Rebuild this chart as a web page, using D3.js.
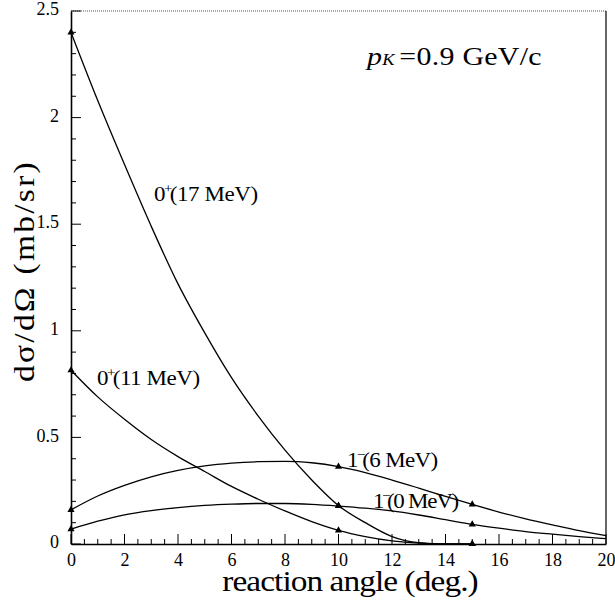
<!DOCTYPE html>
<html><head><meta charset="utf-8">
<script src="https://cdn.jsdelivr.net/npm/d3@7"></script>
<style>body{margin:0;background:#fff}svg{display:block}</style>
</head><body>
<svg id="c" width="615" height="603"></svg>
<script>
const angles = [0,1,2,3,4,5,6,7,8,9,10,11,12,13,14,15,16,17,18,19,20];
const s17 = [2.40,2.08,1.78,1.49,1.22,0.99,0.78,0.60,0.44,0.30,0.18,0.10,0.035,0.006,0.0,0.0];
const s11 = [0.815,0.69,0.585,0.49,0.41,0.34,0.27,0.21,0.155,0.105,0.064,0.035,0.015,0.004,0.0,0.0];
const s6  = [0.16,0.225,0.275,0.315,0.345,0.366,0.379,0.386,0.388,0.381,0.363,0.335,0.30,0.262,0.223,0.186,0.15,0.118,0.09,0.063,0.039];
const s0  = [0.07,0.107,0.137,0.157,0.171,0.181,0.187,0.19,0.19,0.186,0.178,0.168,0.155,0.136,0.114,0.092,0.074,0.058,0.046,0.035,0.025];
const markerAngles = [0,10,15];
const xTicks = [0,2,4,6,8,10,12,14,16,18,20];
const yTicks = [0,0.5,1,1.5,2,2.5];
const yTickLabels = ["0","0.5","1","1.5","2","2.5"];

const FONT = "Liberation Serif";
const SX = 1.15;
const svg = d3.select("#c");
const x = d3.scaleLinear().domain([0,20]).range([71,606]);
const y = d3.scaleLinear().domain([0,2.5]).range([544,11]);

function fitWidth(sel, target){
  const node = sel.node();
  const n = node.textContent.length;
  for(let k=0;k<3;k++){
    const w = node.getBBox().width;
    const cur = parseFloat(sel.style("letter-spacing"))||0;
    sel.style("letter-spacing", (cur + (target/SX-w)/n)+"px");
  }
}

// frame
svg.append("line").attr("x1",x(0)).attr("x2",x(20)).attr("y1",y(2.5)).attr("y2",y(2.5))
  .attr("stroke","#555").attr("stroke-width",1).attr("stroke-dasharray","1,1");
svg.append("line").attr("x1",x(20)).attr("x2",x(20)).attr("y1",y(2.5)).attr("y2",y(0))
  .attr("stroke","#000").attr("stroke-width",1.2);

// axes
const yAxis = d3.axisLeft(y).tickValues(yTicks).tickSize(0).tickPadding(12)
  .tickFormat((d,i)=>yTickLabels[i]);
const gy = svg.append("g").attr("transform",`translate(${x(0)},0)`).call(yAxis);
gy.select(".domain").attr("stroke","#000").attr("stroke-width",1.6);
gy.selectAll("text").style("font-family",FONT).style("font-size","18px").attr("dy","0.2em").attr("fill","#000");
const yMinor = d3.range(0,2.501,0.1);
svg.append("g").selectAll("line").data(yMinor).join("line")
  .attr("x1",x(0)).attr("x2",d=>x(0)+(Math.abs(d*2-Math.round(d*2))<1e-6?10:5))
  .attr("y1",d=>y(d)).attr("y2",d=>y(d)).attr("stroke","#000").attr("stroke-width",1);

const xAxis = d3.axisBottom(x).tickValues(xTicks).tickSize(0).tickPadding(9).tickFormat(d3.format("d"));
const gx = svg.append("g").attr("transform",`translate(0,${y(0)})`).call(xAxis);
gx.select(".domain").attr("stroke","#000").attr("stroke-width",1.6);
gx.selectAll("text").style("font-family",FONT).style("font-size","18px").attr("fill","#000");
const xMinor = d3.range(0,20.001,0.5);
svg.append("g").selectAll("line").data(xMinor).join("line")
  .attr("x1",d=>x(d)).attr("x2",d=>x(d)).attr("y1",y(0))
  .attr("y2",d=>y(0)-(Math.abs(d/2-Math.round(d/2))<1e-6?10:5))
  .attr("stroke","#000").attr("stroke-width",1);

// curves
const line = d3.line().x(d=>x(d[0])).y(d=>y(d[1])).curve(d3.curveMonotoneX);
const series = [s17,s11,s6,s0];
series.forEach(s=>{
  const pts = s.map((v,i)=>[angles[i],v]);
  svg.append("path").attr("d",line(pts)).attr("fill","none").attr("stroke","#000").attr("stroke-width",1.3);
  const mk = pts.filter(p=>markerAngles.includes(p[0]));
  svg.append("g").selectAll("path").data(mk).join("path")
    .attr("d",d3.symbol(d3.symbolTriangle,22)())
    .attr("transform",d=>`translate(${x(d[0])},${y(d[1])})`).attr("fill","#000");
});

// labels
function stateLabel(px,py,main,sup,rest,w){
  const t = svg.append("text").attr("transform",`translate(${px},${py}) scale(${SX},1)`)
    .style("font-family",FONT).style("font-size","20px");
  t.append("tspan").text(main);
  t.append("tspan").style("font-size","13px").attr("dy",-8).attr("dx",-1).text(sup);
  t.append("tspan").attr("dy",8).attr("dx",-2).text(rest);
  fitWidth(t,w);
}
stateLabel(154,201,"0","+","(17 MeV)",104);
stateLabel(97,385,"0","+","(11 MeV)",103);
stateLabel(347,467,"1","\u2212","(6 MeV)",91);
stateLabel(373,508,"1","\u2212","(0 MeV)",86);

const pk = svg.append("text").attr("transform",`translate(367,65) scale(${SX},1)`)
  .style("font-family",FONT).style("font-size","26px");
pk.append("tspan").style("font-style","italic").text("p");
pk.append("tspan").style("font-style","italic").style("font-size","16px").text("K");
pk.append("tspan").attr("dx",4).text("=0.9 GeV/c");
fitWidth(pk,177);

const xt = svg.append("text").attr("transform",`translate(350,591) scale(${SX},1)`).attr("text-anchor","middle")
  .style("font-family",FONT).style("font-size","29px").text("reaction angle (deg.)");
fitWidth(xt,256);
const yt = svg.append("text").attr("transform",`translate(34,271) rotate(-90) scale(${SX},1)`).attr("text-anchor","middle")
  .style("font-family",FONT).style("font-size","29px").text("dσ/dΩ (mb/sr)");
fitWidth(yt,222);
</script>
</body></html>
